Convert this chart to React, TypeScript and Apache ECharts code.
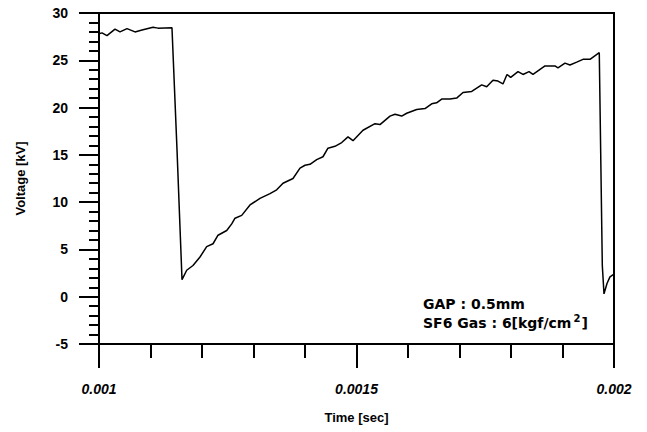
import React, { useEffect, useRef } from "react";
import * as echarts from "echarts";

const timeSec = [
  0.0010000, 0.0010058, 0.0010155, 0.0010311, 0.0010408, 0.0010544, 0.0010699, 0.0010835,
  0.0011049, 0.0011146, 0.0011417, 0.0011515, 0.0011612, 0.0011703, 0.0011825, 0.0011961,
  0.0012091, 0.0012214, 0.0012311, 0.0012480, 0.0012577, 0.0012641, 0.0012771, 0.0012932,
  0.0013126, 0.0013320, 0.0013450, 0.0013573, 0.0013767, 0.0013903, 0.0014000, 0.0014097,
  0.0014227, 0.0014349, 0.0014446, 0.0014582, 0.0014713, 0.0014835, 0.0014932, 0.0015126,
  0.0015359, 0.0015456, 0.0015650, 0.0015747, 0.0015877, 0.0015975, 0.0016169, 0.0016330,
  0.0016460, 0.0016555, 0.0016654, 0.0016815, 0.0016945, 0.0017068, 0.0017237, 0.0017431,
  0.0017528, 0.0017650, 0.0017747, 0.0017844, 0.0017922, 0.0017994, 0.0018136, 0.0018233,
  0.0018350, 0.0018427, 0.0018660, 0.0018854, 0.0018912, 0.0019048, 0.0019145, 0.0019276,
  0.0019398, 0.0019534, 0.0019714, 0.0019773, 0.0019806, 0.0019864, 0.0019922, 0.0020000,
];

const voltageKV = [
  27.8, 27.9, 27.6, 28.3, 28.0, 28.35, 28.0, 28.2,
  28.5, 28.4, 28.45, 15.5, 1.8, 2.8, 3.3, 4.2,
  5.3, 5.6, 6.5, 7.0, 7.7, 8.3, 8.6, 9.7,
  10.4, 10.9, 11.3, 12.0, 12.5, 13.6, 13.9, 14.0,
  14.5, 14.8, 15.7, 15.9, 16.3, 16.9, 16.5, 17.6,
  18.3, 18.2, 19.1, 19.3, 19.1, 19.4, 19.8, 19.9,
  20.4, 20.5, 20.9, 20.9, 21.0, 21.6, 21.7, 22.4,
  22.2, 22.9, 22.8, 22.5, 23.5, 23.2, 23.8, 23.5,
  23.8, 23.5, 24.4, 24.4, 24.2, 24.7, 24.5, 24.8,
  25.1, 25.1, 25.8, 3.3, 0.3, 1.4, 2.1, 2.4,
];

const xTickLabels: Record<string, string> = { "0.001": "0.001", "0.0015": "0.0015", "0.002": "0.002" };
const annotationLines = ["GAP : 0.5mm", "SF6 Gas : 6[kgf/cm", "2", "]"];

export default function App() {
  const ref = useRef<HTMLDivElement>(null);
  useEffect(() => {
    if (!ref.current) return;
    const chart = echarts.init(ref.current, null, { renderer: "svg" });
    const font = "Liberation Sans, Arial, sans-serif";
    const noteFont = "DejaVu Sans, sans-serif";
    chart.setOption({
      animation: false,
      backgroundColor: "#fff",
      grid: {
        left: 99,
        right: 33,
        top: 13,
        bottom: 88,
        show: true,
        borderColor: "#000",
        borderWidth: 2,
      },
      xAxis: {
        type: "value",
        min: 0.001,
        max: 0.002,
        interval: 0.0005,
        name: "Time [sec]",
        nameLocation: "middle",
        nameGap: 67,
        nameTextStyle: { fontFamily: font, fontWeight: "bold", fontSize: 13, color: "#000" },
        axisLine: { show: true, onZero: false, lineStyle: { color: "#000", width: 2 } },
        axisTick: { show: true, inside: false, length: 24, lineStyle: { color: "#000", width: 2 } },
        minorTick: { show: true, splitNumber: 5, length: 14, lineStyle: { color: "#000", width: 2 } },
        splitLine: { show: false },
        axisLabel: {
          margin: 38,
          fontFamily: font,
          fontWeight: "bold",
          fontStyle: "italic",
          fontSize: 14,
          color: "#000",
          formatter: (v: number) => {
            const k = String(Number(v.toPrecision(6)));
            return xTickLabels[k] ?? k;
          },
        },
      },
      yAxis: {
        type: "value",
        min: -5,
        max: 30,
        interval: 5,
        name: "Voltage [kV]",
        nameLocation: "middle",
        nameGap: 72,
        nameTextStyle: { fontFamily: font, fontWeight: "bold", fontSize: 13, color: "#000" },
        axisLine: { show: true, onZero: false, lineStyle: { color: "#000", width: 2 } },
        axisTick: { show: true, inside: false, length: 20, lineStyle: { color: "#000", width: 2 } },
        minorTick: { show: true, splitNumber: 5, length: 10, lineStyle: { color: "#000", width: 2 } },
        splitLine: { show: false },
        axisLabel: {
          margin: 31,
          fontFamily: font,
          fontWeight: "bold",
          fontSize: 14,
          color: "#000",
        },
      },
      series: [
        {
          type: "line",
          data: timeSec.map((t, i) => [t, voltageKV[i]]),
          showSymbol: false,
          lineStyle: { color: "#000", width: 1.5 },
          clip: true,
        },
      ],
      graphic: [
        {
          type: "text",
          left: 423,
          top: 297,
          style: {
            text: annotationLines[0],
            font: `bold 14px ${noteFont}`,
            fill: "#000",
          },
        },
        {
          type: "text",
          left: 423,
          top: 313,
          style: {
            text: `{a|${annotationLines[1]}}{s|${annotationLines[2]}}{a|${annotationLines[3]}}`,
            rich: {
              a: { fontFamily: noteFont, fontWeight: "bold", fontSize: 14, fill: "#000", verticalAlign: "bottom", lineHeight: 17 },
              s: { fontFamily: noteFont, fontWeight: "bold", fontSize: 10, fill: "#000", verticalAlign: "top", lineHeight: 17, padding: [0, 1, 6, 2] },
            },
          },
        },
      ],
    });
    return () => chart.dispose();
  }, []);
  return <div ref={ref} style={{ width: 647, height: 432, position: "absolute", left: 0, top: 0 }} />;
}
